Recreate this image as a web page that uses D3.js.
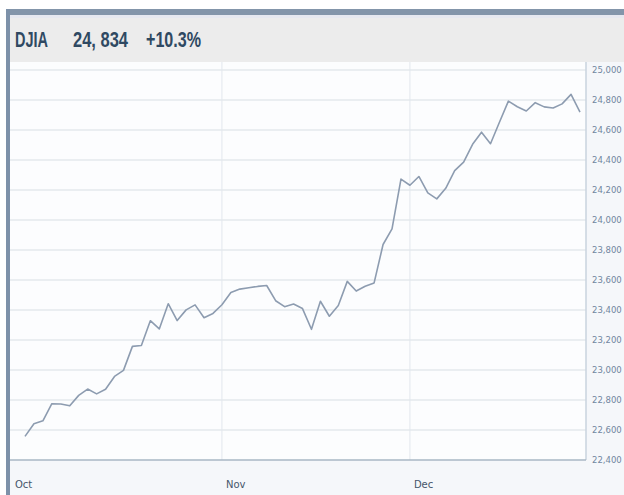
<!DOCTYPE html>
<html>
<head>
<meta charset="utf-8">
<script src="https://cdn.jsdelivr.net/npm/d3@7"></script>
<style>
  html, body { margin: 0; padding: 0; background: #fff; }
  svg { display: block; }
</style>
</head>
<body>
<div class="js-chart"></div>
<script>
// DJIA closes, Q4, one value per trading day
const octCloses = [22557.6, 22641.7, 22661.6, 22775.4, 22773.7, 22761.1, 22830.7, 22872.9, 22841.0, 22871.7,
  22957.0, 22997.4, 23157.6, 23163.0, 23328.6, 23274.0, 23441.8, 23329.5, 23400.9, 23434.2, 23348.7, 23377.2];
const novCloses = [23435.0, 23516.3, 23539.2, 23548.4, 23557.2, 23563.4, 23461.9, 23422.2, 23439.7, 23409.5,
  23271.3, 23458.4, 23358.2, 23430.3, 23590.8, 23526.2, 23558.0, 23580.8, 23836.7, 23940.7, 24272.4];
const decCloses = [24231.6, 24290.1, 24180.6, 24140.9, 24211.5, 24329.2, 24386.0, 24504.8, 24585.4, 24508.7,
  24651.7, 24792.2, 24754.8, 24726.7, 24782.3, 24754.1, 24746.2, 24774.3, 24837.5, 24719.2];
const monthLabels = ["Oct", "Nov", "Dec"];
const yTicks = [22400, 22600, 22800, 23000, 23200, 23400, 23600, 23800, 24000, 24200, 24400, 24600, 24800, 25000];
const titleParts = ["DJIA", "24, 834", "+10.3%"];

const width = 624
    , height = 495
    ;

const closes = octCloses.concat(novCloses, decCloses);
const monthStarts = [0, octCloses.length, octCloses.length + novCloses.length];

const plot = { left: 10, right: 586, top: 62, bottom: 460 };

const x = d3.scaleLinear()
  .domain([0, closes.length - 1])
  .range([25, 580]);

const y = d3.scaleLinear()
  .domain([22400, 25000])
  .range([460, 70]);

const svg = d3.select(".js-chart")
  .append("svg")
  .attr("width", width)
  .attr("height", height);

// frame
svg.append("rect")
  .attr("x", 6).attr("y", 9)
  .attr("width", width - 6).attr("height", height - 9)
  .attr("fill", "#f5f7fa");

svg.append("rect")
  .attr("x", 10).attr("y", 15)
  .attr("width", width - 10).attr("height", plot.top - 15)
  .attr("fill", "#ececec");

svg.append("rect")
  .attr("x", 10).attr("y", 15)
  .attr("width", width - 10).attr("height", 3)
  .attr("fill", "#e6e8f0");

svg.append("rect")
  .attr("x", plot.left).attr("y", plot.top)
  .attr("width", plot.right - plot.left).attr("height", plot.bottom - plot.top)
  .attr("fill", "#fcfdfe");

svg.append("rect")
  .attr("x", 6).attr("y", 9)
  .attr("width", width - 6).attr("height", 6)
  .attr("fill", "#8395aa");

svg.append("rect")
  .attr("x", 6).attr("y", 9)
  .attr("width", 4).attr("height", height - 9)
  .attr("fill", "#7d91a9");

// title
const titleX = [15, 73, 146]
    , titleW = [33, 55, 55]
    ;
svg.append("g")
  .selectAll("text")
  .data(titleParts)
  .join("text")
    .attr("x", (d, i) => titleX[i])
    .attr("y", 47)
    .attr("textLength", (d, i) => titleW[i])
    .attr("lengthAdjust", "spacingAndGlyphs")
    .style("font", "bold 22px 'Liberation Sans Narrow', 'Liberation Sans', sans-serif")
    .attr("fill", "#2f4962")
    .text(d => d);

// grid
svg.append("g")
  .selectAll("line")
  .data(yTicks.slice(1))
  .join("line")
    .attr("x1", plot.left)
    .attr("x2", plot.right)
    .attr("y1", d => y(d))
    .attr("y2", d => y(d))
    .attr("stroke", "#e4e8ed")
    .attr("stroke-width", 1.5);

svg.append("g")
  .selectAll("line")
  .data(monthStarts.slice(1))
  .join("line")
    .attr("x1", d => x(d))
    .attr("x2", d => x(d))
    .attr("y1", plot.top)
    .attr("y2", plot.bottom)
    .attr("stroke", "#e2e7ed")
    .attr("stroke-width", 1);

// borders
svg.append("line")
  .attr("x1", plot.right).attr("x2", plot.right)
  .attr("y1", plot.top).attr("y2", plot.bottom)
  .attr("stroke", "#c9d3de")
  .attr("stroke-width", 1.5);

svg.append("line")
  .attr("x1", plot.left).attr("x2", plot.right)
  .attr("y1", plot.bottom).attr("y2", plot.bottom)
  .attr("stroke", "#a9b7c5")
  .attr("stroke-width", 1.5);

// line
const line = d3.line()
  .x((d, i) => x(i))
  .y(d => y(d));

svg.append("path")
  .datum(closes)
  .attr("d", line)
  .attr("fill", "none")
  .attr("stroke", "#8d9cb0")
  .attr("stroke-width", 1.6)
  .attr("stroke-linejoin", "round");

// y labels
svg.append("g")
  .selectAll("text")
  .data(yTicks)
  .join("text")
    .attr("x", 592)
    .attr("y", d => y(d))
    .attr("dy", "0.35em")
    .style("font", "8.5px 'DejaVu Sans', sans-serif")
    .attr("fill", "#7186a0")
    .text(d => d3.format(",")(d));

// month labels
svg.append("g")
  .selectAll("text")
  .data(monthLabels)
  .join("text")
    .attr("x", (d, i) => i == 0 ? plot.left + 5 : x(monthStarts[i]) + 4)
    .attr("y", 484)
    .attr("dy", "0.35em")
    .style("font", "10px 'DejaVu Sans', sans-serif")
    .attr("fill", "#46566a")
    .text(d => d);
</script>
</body>
</html>
